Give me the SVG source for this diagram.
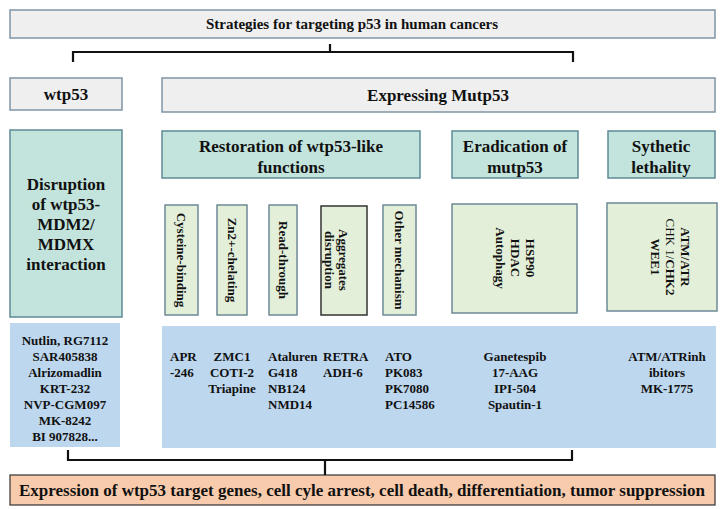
<svg xmlns="http://www.w3.org/2000/svg" width="725" height="509" viewBox="0 0 725 509">
<style>
text{font-family:"Liberation Serif","Times New Roman",serif;font-weight:bold;fill:#111;}
.g{fill:#efefef;stroke:#7f95a6;stroke-width:1.5}
.t{fill:#c3e4dc;stroke:#5e8a96;stroke-width:1.5}
.l{fill:#e3efd9;stroke:#6e8a96;stroke-width:1.5}
.b{fill:#bdd7ee;stroke:none}
.p{fill:#f8cbad;stroke:#333;stroke-width:1.2}
.c{fill:none;stroke:#111;stroke-width:2.2}
.h{font-size:17px;text-anchor:middle}
.s{font-size:13px}
.m{text-anchor:middle}
</style>
<g id="title"><rect class="g" x="10" y="10" width="705" height="28"/><text class="h" x="352" y="29" style="font-size:15px">Strategies for targeting p53 in human cancers</text></g>
<g id="wtp53"><rect class="g" x="10" y="78" width="112" height="32"/><text class="h" x="66" y="100">wtp53</text></g>
<g id="mut"><rect class="g" x="162" y="78" width="553" height="34"/><text class="h" x="438" y="101">Expressing Mutp53</text></g>
<g id="disrupt"><rect class="t" x="10" y="130" width="112" height="187"/><text class="h" x="66" y="190">Disruption<tspan x="66" dy="20">of wtp53-</tspan><tspan x="66" dy="20">MDM2/</tspan><tspan x="66" dy="20">MDMX</tspan><tspan x="66" dy="20">interaction</tspan></text></g>
<g id="restore"><rect class="t" x="162" y="131" width="258" height="47"/><text class="h" x="291" y="152">Restoration of wtp53-like<tspan x="291" dy="21">functions</tspan></text></g>
<g id="erad"><rect class="t" x="452" y="131" width="126" height="47"/><text class="h" x="515" y="152">Eradication of<tspan x="515" dy="21">mutp53</tspan></text></g>
<g id="syn"><rect class="t" x="608" y="131" width="107" height="47"/><text class="h" x="661" y="152">Sythetic<tspan x="661" dy="21">lethality</tspan></text></g>
<g id="cys"><rect class="l" x="165" y="205" width="33" height="110"/><text class="s m" transform="translate(177,260) rotate(90)">Cysteine-binding</text></g>
<g id="zn"><rect class="l" x="217" y="205" width="30" height="110"/><text class="s m" transform="translate(228,260) rotate(90)">Zn2+-chelating</text></g>
<g id="read"><rect class="l" x="269" y="205" width="28" height="110"/><text class="s m" transform="translate(279,260) rotate(90)">Read-through</text></g>
<g id="agg"><rect class="l" x="321" y="206" width="46" height="109" style="stroke:#333"/><text class="s m" transform="translate(339,260) rotate(90)">Aggregates<tspan x="0" dy="14">disruption</tspan></text></g>
<g id="other"><rect class="l" x="383" y="205" width="33" height="110"/><text class="s m" transform="translate(395,260) rotate(90)">Other mechanism</text></g>
<g id="hsp"><rect class="l" x="452" y="204" width="125" height="109"/><text class="s m" transform="translate(526,258) rotate(90)">HSP90<tspan x="0" dy="15">HDAC</tspan><tspan x="0" dy="15">Autophagy</tspan></text></g>
<g id="atm"><rect class="l" x="607" y="203" width="110" height="108"/><text class="s m" transform="translate(681,257) rotate(90)">ATM/ATR<tspan x="0" dy="15" font-weight="normal">CHK 1/</tspan><tspan>CHK2</tspan><tspan x="0" dy="15">WEE1</tspan></text></g>
<g id="drugs1"><rect class="b" x="10" y="323" width="110" height="124"/><text class="s m" x="65" y="345">Nutlin, RG7112<tspan x="65" dy="16">SAR405838</tspan><tspan x="65" dy="16">Alrizomadlin</tspan><tspan x="65" dy="16">KRT-232</tspan><tspan x="65" dy="16">NVP-CGM097</tspan><tspan x="65" dy="16">MK-8242</tspan><tspan x="65" dy="16">BI 907828...</tspan></text></g>
<g id="drugs2"><rect class="b" x="162" y="326" width="554" height="122"/>
<text class="s" font-size="11" x="170" y="361">APR<tspan x="170" dy="16">-246</tspan></text>
<text class="s m" font-size="11" x="232" y="361">ZMC1<tspan x="232" dy="16">COTI-2</tspan><tspan x="232" dy="16">Triapine</tspan></text>
<text class="s" font-size="11" x="268" y="361">Ataluren<tspan x="268" dy="16">G418</tspan><tspan x="268" dy="16">NB124</tspan><tspan x="268" dy="16">NMD14</tspan></text>
<text class="s" font-size="11" x="323" y="361">RETRA<tspan x="323" dy="16">ADH-6</tspan></text>
<text class="s" font-size="11" x="385" y="361">ATO<tspan x="385" dy="16">PK083</tspan><tspan x="385" dy="16">PK7080</tspan><tspan x="385" dy="16">PC14586</tspan></text>
<text class="s m" font-size="11" x="515" y="361">Ganetespib<tspan x="515" dy="16">17-AAG</tspan><tspan x="515" dy="16">IPI-504</tspan><tspan x="515" dy="16">Spautin-1</tspan></text>
<text class="s m" font-size="11" x="667" y="361">ATM/ATRinh<tspan x="667" dy="16">ibitors</tspan><tspan x="667" dy="16">MK-1775</tspan></text>
</g>
<g id="result"><rect class="p" x="10" y="475" width="705" height="30"/><text class="h" x="362" y="496">Expression of wtp53 target genes, cell cyle arrest, cell death, differentiation, tumor suppression</text></g>
<g id="connectors">
<path class="c" d="M73,62 V52 H573 V62 M330,52 V44"/>
<path class="c" d="M68,450 V460 H572 V450 M325,460 V475"/>
</g>
</svg>
